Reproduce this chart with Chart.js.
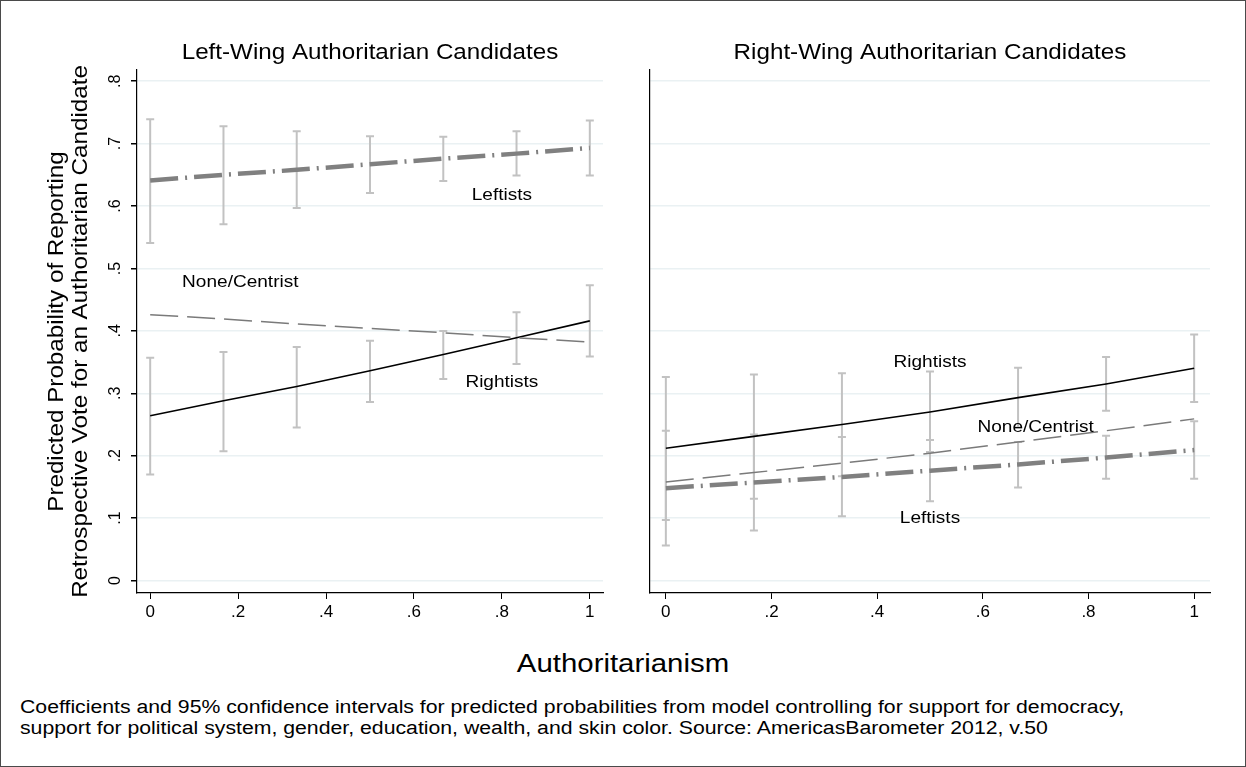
<!DOCTYPE html>
<html>
<head>
<meta charset="utf-8">
<script src="https://cdn.jsdelivr.net/npm/chart.js@4.4.0/dist/chart.umd.min.js"></script>
<style>
  body { margin: 0; background: #fff; font-family: "Liberation Sans", Arial, sans-serif; }
  #frame { position: absolute; left: 0; top: 0; width: 1246px; height: 767px; box-sizing: border-box; border: 1px solid #4a4a4a; }
  #cL { position: absolute; left: 0; top: 0; }
  #cR { position: absolute; left: 615px; top: 0; }
  #xtitle { position: absolute; left: 0; width: 1246px; top: 648px; text-align: center; font-size: 26px; color: #000;
            transform: scaleX(1.13); transform-origin: 623px 0; }
  #note { position: absolute; left: 20px; top: 697px; font-size: 18px; line-height: 21px; color: #000; white-space: nowrap;
          transform: scaleX(1.18); transform-origin: 0 0; }
</style>
</head>
<body>
<div id="frame"></div>
<canvas id="cL" width="615" height="640"></canvas>
<canvas id="cR" width="631" height="640"></canvas>
<div id="xtitle">Authoritarianism</div>
<div id="note">Coefficients and 95% confidence intervals for predicted probabilities from model controlling for support for democracy,<br>support for political system, gender, education, wealth, and skin color. Source: AmericasBarometer 2012, v.50</div>
<script>
// authoritarianism values where predictions were made
const authority = [0, 0.1667, 0.3333, 0.5, 0.6667, 0.8333, 1];
const xTicks = [0, 0.2, 0.4, 0.6, 0.8, 1];
const xTickLabels = ['0', '.2', '.4', '.6', '.8', '1'];
const yTicks = [0, 0.1, 0.2, 0.3, 0.4, 0.5, 0.6, 0.7, 0.8];
const yTickLabels = ['0', '.1', '.2', '.3', '.4', '.5', '.6', '.7', '.8'];
const yTitle = ['Predicted Probability of Reporting', 'Retrospective Vote for an Authoritarian Candidate'];

// Left-wing authoritarian candidates
const leftW_leftists    = [0.641, 0.650, 0.658, 0.667, 0.676, 0.684, 0.693];
const leftW_leftists_lo = [0.541, 0.571, 0.597, 0.621, 0.640, 0.649, 0.649];
const leftW_leftists_hi = [0.739, 0.728, 0.720, 0.712, 0.711, 0.720, 0.737];
const leftW_centrist    = [0.426, 0.419, 0.411, 0.404, 0.397, 0.389, 0.382];
const leftW_rightists    = [0.264, 0.288, 0.311, 0.336, 0.362, 0.389, 0.416];
const leftW_rightists_lo = [0.170, 0.207, 0.245, 0.286, 0.323, 0.347, 0.359];
const leftW_rightists_hi = [0.357, 0.366, 0.374, 0.384, 0.400, 0.430, 0.473];

// Right-wing authoritarian candidates
const rightW_rightists    = [0.212, 0.231, 0.250, 0.270, 0.293, 0.315, 0.340];
const rightW_rightists_lo = [0.097, 0.131, 0.167, 0.206, 0.245, 0.272, 0.286];
const rightW_rightists_hi = [0.326, 0.330, 0.332, 0.335, 0.341, 0.358, 0.394];
const rightW_centrist     = [0.158, 0.173, 0.188, 0.204, 0.222, 0.240, 0.259];
const rightW_leftists     = [0.148, 0.157, 0.166, 0.176, 0.186, 0.197, 0.209];
const rightW_leftists_lo  = [0.056, 0.080, 0.103, 0.127, 0.149, 0.163, 0.163];
const rightW_leftists_hi  = [0.240, 0.234, 0.230, 0.225, 0.222, 0.232, 0.255];

const FONT = '"Liberation Sans", Arial, sans-serif';
const pts = arr => arr.map((v, i) => ({x: authority[i], y: v}));

// draws the 95% CI whiskers under the lines
const errorBars = {
  id: 'errorBars',
  beforeDatasetsDraw(chart, args, opts) {
    const {ctx, scales: {x, y}} = chart;
    ctx.save();
    ctx.strokeStyle = '#c2c2c2';
    ctx.lineWidth = 2;
    opts.bars.forEach(b => {
      b.lo.forEach((lo, i) => {
        const px = x.getPixelForValue(authority[i]);
        const p1 = y.getPixelForValue(lo), p2 = y.getPixelForValue(b.hi[i]);
        ctx.beginPath();
        ctx.moveTo(px, p1); ctx.lineTo(px, p2);
        ctx.moveTo(px - 4, p1); ctx.lineTo(px + 4, p1);
        ctx.moveTo(px - 4, p2); ctx.lineTo(px + 4, p2);
        ctx.stroke();
      });
    });
    ctx.restore();
  }
};

// stata output looks a bit stretched sideways, so text gets a small x-scale
function wideText(ctx, text, x, y, sx, rot) {
  ctx.save();
  ctx.translate(x, y);
  if (rot) ctx.rotate(rot);
  ctx.scale(sx, 1);
  ctx.fillText(text, 0, 0);
  ctx.restore();
}

// panel title, group labels, y title
const panelText = {
  id: 'panelText',
  afterDatasetsDraw(chart, args, opts) {
    const {ctx, chartArea, scales: {x, y}} = chart;
    ctx.save();
    ctx.fillStyle = '#000';
    ctx.textAlign = 'center';
    ctx.textBaseline = 'middle';
    ctx.font = '22px ' + FONT;
    wideText(ctx, opts.title, (chartArea.left + chartArea.right) / 2, 53, 1.1);
    ctx.font = '17px ' + FONT;
    opts.labels.forEach(l => wideText(ctx, l.text, x.getPixelForValue(l.x), y.getPixelForValue(l.y), 1.12));
    if (opts.yTitle) {
      ctx.font = '22px ' + FONT;
      const cy = (chartArea.top + chartArea.bottom) / 2;
      opts.yTitle.forEach((t, i) => wideText(ctx, t, 57 + i * 24, cy, 1.1, -Math.PI / 2));
    }
    ctx.restore();
  }
};

function makeChart(id, cfg) {
  return new Chart(document.getElementById(id), {
    type: 'line',
    data: {datasets: cfg.datasets},
    plugins: [errorBars, panelText],
    options: {
      responsive: false,
      animation: false,
      layout: {padding: {top: 70, right: cfg.padRight, left: 0, bottom: 0}},
      plugins: {
        legend: {display: false},
        tooltip: {enabled: false},
        errorBars: {bars: cfg.bars},
        panelText: {title: cfg.title, labels: cfg.labels, yTitle: cfg.showY ? yTitle : null}
      },
      elements: {point: {radius: 0}, line: {tension: 0}},
      scales: {
        x: {
          type: 'linear',
          min: -0.03, max: 1.03,
          afterBuildTicks: s => { s.ticks = xTicks.map(v => ({value: v})); },
          afterFit: s => { s.height = 47; },
          grid: {drawOnChartArea: false, drawTicks: true, tickLength: 6, tickColor: '#000'},
          border: {display: true, color: '#000', width: 1.2},
          ticks: {
            color: '#000', font: {size: 17, family: FONT}, padding: 3,
            maxRotation: 0, autoSkip: false,
            callback: v => xTickLabels[xTicks.indexOf(v)]
          }
        },
        y: {
          type: 'linear',
          min: -0.02, max: 0.818,
          afterBuildTicks: s => { s.ticks = yTicks.map(v => ({value: v})); },
          afterFit: s => { s.width = cfg.yWidth; },
          grid: {color: '#eaf1f3', lineWidth: 1.5, drawTicks: cfg.showY, tickLength: 6, tickColor: '#000'},
          border: {display: true, color: '#000', width: 1.2},
          title: {display: false},
          ticks: {
            display: cfg.showY, color: '#000', font: {size: 16, family: FONT},
            minRotation: 90, maxRotation: 90, crossAlign: 'center', padding: 9,
            autoSkip: false,
            callback: v => yTickLabels[yTicks.findIndex(t => Math.abs(t - v) < 1e-9)]
          }
        }
      }
    }
  });
}

const leftDash = {borderColor: '#808080', borderWidth: 4.5, borderDash: [28, 7, 2, 7]};
const centDash = {borderColor: '#7a7a7a', borderWidth: 1.5, borderDash: [28, 9]};
const rightSolid = {borderColor: '#000', borderWidth: 1.6};

makeChart('cL', {
  title: 'Left-Wing Authoritarian Candidates',
  yWidth: 137, padRight: 12, showY: true,
  datasets: [
    Object.assign({label: 'Leftists', data: pts(leftW_leftists)}, leftDash),
    Object.assign({label: 'None/Centrist', data: pts(leftW_centrist)}, centDash),
    Object.assign({label: 'Rightists', data: pts(leftW_rightists)}, rightSolid)
  ],
  bars: [
    {lo: leftW_leftists_lo, hi: leftW_leftists_hi},
    {lo: leftW_rightists_lo, hi: leftW_rightists_hi}
  ],
  labels: [
    {text: 'Leftists', x: 0.80, y: 0.617},
    {text: 'None/Centrist', x: 0.205, y: 0.478},
    {text: 'Rightists', x: 0.80, y: 0.318}
  ]
});

makeChart('cR', {
  title: 'Right-Wing Authoritarian Candidates',
  yWidth: 35, padRight: 36, showY: false,
  datasets: [
    Object.assign({label: 'Leftists', data: pts(rightW_leftists)}, leftDash),
    Object.assign({label: 'None/Centrist', data: pts(rightW_centrist)}, centDash),
    Object.assign({label: 'Rightists', data: pts(rightW_rightists)}, rightSolid)
  ],
  bars: [
    {lo: rightW_rightists_lo, hi: rightW_rightists_hi},
    {lo: rightW_leftists_lo, hi: rightW_leftists_hi}
  ],
  labels: [
    {text: 'Rightists', x: 0.50, y: 0.349},
    {text: 'None/Centrist', x: 0.70, y: 0.246},
    {text: 'Leftists', x: 0.50, y: 0.099}
  ]
});
</script>
</body>
</html>
